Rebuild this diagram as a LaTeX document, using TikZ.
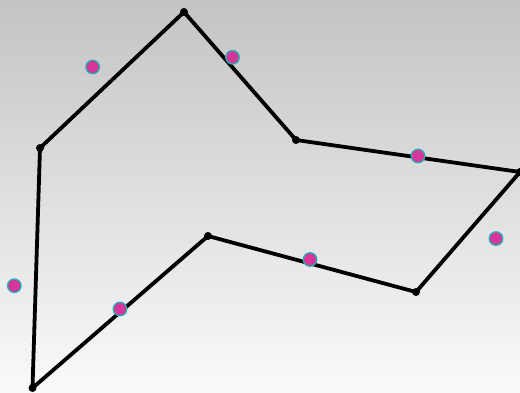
\documentclass[tikz,border=0pt]{standalone}
\usepackage{tikz}
\definecolor{bgtop}{HTML}{C4C4C4}
\definecolor{bgbot}{HTML}{FAFAFA}
\definecolor{mag}{HTML}{D6359A}
\definecolor{cy}{HTML}{22B0B4}
\tikzset{
  vtx/.style={circle,fill=black,inner sep=0pt,minimum size=8pt},
  pt/.style={circle,fill=mag,draw=cy,line width=1.3pt,inner sep=0pt,minimum size=13.5pt},
  edge/.style={line width=3.8pt,line join=round,line cap=round}
}
\begin{document}
\begin{tikzpicture}[x=1pt,y=-1pt]
\shade[top color=bgtop,bottom color=bgbot] (0,0) rectangle (520,392);
\useasboundingbox (0,0) rectangle (520,392);
\coordinate (c1) at (184,12);
\coordinate (c2) at (296,140);
\coordinate (c3) at (520,172);
\coordinate (c4) at (416,292);
\coordinate (c5) at (208,236);
\coordinate (c6) at (32.5,388);
\coordinate (c7) at (40,148);
\draw[edge] (c1) -- (c2) -- (c3) -- (c4) -- (c5) -- (c6) -- (c7) -- cycle;
\node[vtx] (v1) at (c1) {};
\node[vtx] (v2) at (c2) {};
\node[vtx] (v3) at (c3) {};
\node[vtx] (v4) at (c4) {};
\node[vtx] (v5) at (c5) {};
\node[vtx] (v6) at (c6) {};
\node[vtx] (v7) at (c7) {};
\node[pt] (p1) at (92.7,67) {};
\node[pt] (p2) at (232.5,57.3) {};
\node[pt] (p3) at (418,156) {};
\node[pt] (p4) at (496,238.5) {};
\node[pt] (p5) at (310,259.5) {};
\node[pt] (p6) at (120,309) {};
\node[pt] (p7) at (14.3,285.7) {};
\end{tikzpicture}
\end{document}
